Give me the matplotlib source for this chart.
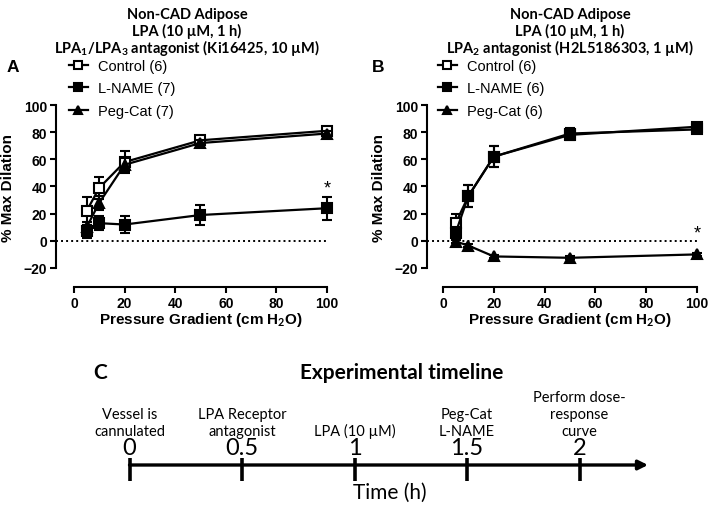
import matplotlib
matplotlib.use('Agg')
import matplotlib.pyplot as plt

# datos
pressure = [5, 10, 20, 50, 100]

ctrl_a = [22, 39, 58, 74, 81]
ctrl_a_err = [10, 8, 8, 3, 2]
lname_a = [7, 13, 12, 19, 24]
lname_a_err = [5, 5, 6, 7.5, 8.5]
peg_a = [10, 28, 56, 72, 79]
peg_a_err = [4, 5, 5, 2, 2]

ctrl_b = [13, 33, 62, 79, 82]
ctrl_b_err = [7, 8, 8, 4, 2]
lname_b = [6, 33, 62, 78, 84]
lname_b_err = [4, 8, 8, 4, 2]
peg_b = [-0.5, -3.5, -11.5, -12.5, -10]
peg_b_err = [1, 1, 1, 1, 1]

labels_a = ['Control (6)', 'L-NAME (7)', 'Peg-Cat (7)']
labels_b = ['Control (6)', 'L-NAME (6)', 'Peg-Cat (6)']
star_a = (100, 39)
star_b = (100, 5.7)

titles_a = ['Non-CAD Adipose', 'LPA (10 µM, 1 h)', r'LPA$_\mathbf{1}$/LPA$_\mathbf{3}$ antagonist (Ki16425, 10 µM)']
titles_b = ['Non-CAD Adipose', 'LPA (10 µM, 1 h)', r'LPA$_\mathbf{2}$ antagonist (H2L5186303, 1 µM)']

times = [0, 0.5, 1, 1.5, 2]
time_labels = ['0', '0.5', '1', '1.5', '2']
events = ['Vessel is\ncannulated', 'LPA Receptor\nantagonist', 'LPA (10 µM)',
          'Peg-Cat\nL-NAME', 'Perform dose-\nresponse\ncurve']

plt.rcParams['font.family'] = 'Liberation Sans'
plt.rcParams['mathtext.fontset'] = 'custom'
plt.rcParams['mathtext.rm'] = 'Lato'
plt.rcParams['mathtext.bf'] = 'Lato:bold'
plt.rcParams['mathtext.it'] = 'Lato:italic'

W, H = 709, 506
fig = plt.figure(figsize=(W / 100, H / 100), dpi=100)


def px_box(left, right, top, bottom):
    return [left / W, 1 - bottom / H, (right - left) / W, (bottom - top) / H]


def panel(ax, xl, series, star):
    ax.set_xlim(xl, 100)
    ax.set_ylim(-34, 100)
    ax.hlines(0, xl, 100, colors='k', linestyles=(0, (1, 1.6)), lw=1.4)
    handles = []
    estilos = [dict(marker='s', mfc='white'), dict(marker='s', mfc='black'),
               dict(marker='^', mfc='black')]
    for i, (y, e) in enumerate(series):
        ax.errorbar(pressure, y, yerr=e, fmt='none', ecolor='k', elinewidth=1.5,
                    capsize=3.8, capthick=1.5, clip_on=False, zorder=2 + i)
        ln, = ax.plot(pressure, y, color='k', lw=1.6, ms=7.5, mec='black', mew=1.5,
                      clip_on=False, zorder=2.5 + i, **estilos[i])
        handles.append(ln)
    ax.text(star[0], star[1], '*', ha='center', va='center', fontsize=13)

    for s in ['top', 'right']:
        ax.spines[s].set_visible(False)
    ax.spines['left'].set_bounds(-20, 100)
    ax.spines['bottom'].set_bounds(0, 100)
    for s in ['left', 'bottom']:
        ax.spines[s].set_linewidth(1.5)
    ax.set_yticks([-20, 0, 20, 40, 60, 80, 100])
    ax.set_yticklabels(['\u221220', '0', '20', '40', '60', '80', '100'])
    ax.set_xticks([0, 20, 40, 60, 80, 100])
    ax.tick_params(direction='out', length=4, width=1.5, labelsize=10, pad=2.5)
    for t in ax.get_xticklabels() + ax.get_yticklabels():
        t.set_fontweight('bold')
    ax.set_ylabel('% Max Dilation', fontsize=11, fontweight='bold')
    ax.yaxis.set_label_coords(-0.15, 0.552)
    ax.set_xlabel(r'Pressure Gradient (cm H$_\mathbf{2}$O)', fontsize=11, fontweight='bold')
    ax.xaxis.label.set_va('center')
    ax.xaxis.set_label_coords((50 - xl) / (100 - xl), -0.176)
    return handles


def leyenda(handles, labels, x0):
    fig.legend(handles, labels, loc='upper left', bbox_to_anchor=(x0 / W, 1 - 60 / H),
               frameon=False, fontsize=10.5, handlelength=1.3, handletextpad=0.7,
               markerscale=0.8, labelspacing=0.58, borderpad=0, borderaxespad=0)


# A
ax_a = fig.add_axes(px_box(56, 327, 106, 288))
h_a = panel(ax_a, -7.1, [(ctrl_a, ctrl_a_err), (lname_a, lname_a_err), (peg_a, peg_a_err)],
            star_a)
leyenda(h_a, labels_a, 69)

# B
ax_b = fig.add_axes(px_box(427, 697, 106, 288))
h_b = panel(ax_b, -6.3, [(ctrl_b, ctrl_b_err), (lname_b, lname_b_err), (peg_b, peg_b_err)],
            star_b)
leyenda(h_b, labels_b, 438)

# titulos
for cx, lineas in [(187, titles_a), (570, titles_b)]:
    for k, txt in enumerate(lineas):
        fig.text(cx / W, 1 - (15 + 16.5 * k) / H, txt, ha='center', va='center',
                 fontsize=10.5, fontweight='bold', family='Lato')
fig.text(13 / W, 1 - 67 / H, 'A', ha='center', va='center', fontsize=12.5, fontweight='bold')
fig.text(378 / W, 1 - 67 / H, 'B', ha='center', va='center', fontsize=12.5, fontweight='bold')

# C: linea de tiempo
ax_t = fig.add_axes([0, 0, 1, 176 / H])
ax_t.set_xlim(-129.5 / 225, (W - 129.5) / 225)
ax_t.set_ylim(506, 330)
ax_t.axis('off')
ax_t.annotate('', xy=((648 - 129.5) / 225, 466), xytext=(times[0], 466),
              arrowprops=dict(arrowstyle='-|>', lw=2.4, color='k', mutation_scale=14,
                              shrinkA=0, shrinkB=0))
ax_t.vlines(times, 459, 482, colors='k', lw=2.6)
for t, lab, ev in zip(times, time_labels, events):
    ax_t.text(t, 449, lab, ha='center', va='center', fontsize=17, family='Lato')
    ax_t.text(t, 439, ev, ha='center', va='bottom', fontsize=10.5, family='Lato',
              linespacing=1.25)
ax_t.text((100 - 129.5) / 225, 373, 'C', ha='center', va='center', fontsize=15,
          fontweight='bold', family='Lato')
ax_t.text((402 - 129.5) / 225, 373, 'Experimental timeline', ha='center', va='center',
          fontsize=15, fontweight='bold', family='Lato')
ax_t.text((390 - 129.5) / 225, 493, 'Time (h)', ha='center', va='center', fontsize=15,
          family='Lato')

fig.savefig('out.png', dpi=100)
